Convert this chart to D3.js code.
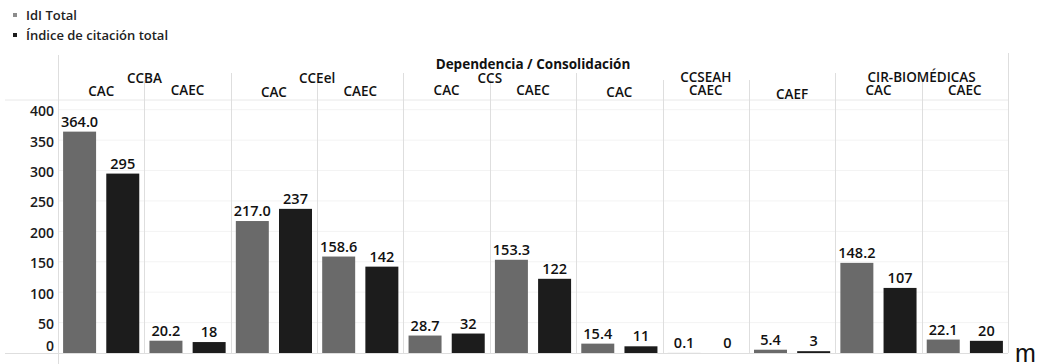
<!DOCTYPE html>
<html>
<head>
<meta charset="utf-8">
<script src="https://cdn.jsdelivr.net/npm/d3@7"></script>
<style>
  html, body { margin: 0; padding: 0; background: #fff; }
  svg { display: block; font-family: "Open Sans", sans-serif; }
</style>
</head>
<body>
<svg id="chart" width="1040" height="364"></svg>
<script>
// Dependencia / Consolidación headers
const groups = ["CCBA", "CCBA", "CCEel", "CCEel", "CCS", "CCS", "CCSEAH", "CCSEAH", "CCSEAH", "CIR-BIOMÉDICAS", "CIR-BIOMÉDICAS"];
const subgroups = ["CAC", "CAEC", "CAC", "CAEC", "CAC", "CAEC", "CAC", "CAEC", "CAEF", "CAC", "CAEC"];
// Series
const idlTotal = [364.0, 20.2, 217.0, 158.6, 28.7, 153.3, 15.4, 0.1, 5.4, 148.2, 22.1];
const indiceCitacion = [295, 18, 237, 142, 32, 122, 11, 0, 3, 107, 20];
const seriesNames = ["IdI Total", "Índice de citación total"];
const yTicks = [0, 50, 100, 150, 200, 250, 300, 350, 400];

const svg = d3.select("#chart");
const colors = { bar: ["#6a6a6a", "#1c1c1c"], legend: ["#8c8c8c", "#1c1c1c"] };
const lineCol = "#dedede";

const paneLeft = 58, paneRight = 1008, paneTop = 100, paneBottom = 353;

const x = d3.scaleBand().domain(d3.range(idlTotal.length)).range([paneLeft, paneRight]);
const xInner = d3.scaleBand().domain([0, 1]).range([0, x.bandwidth()])
  .paddingInner(0.236).paddingOuter(0.118);
const y = d3.scaleLinear().domain([0, 416]).range([paneBottom, paneTop]);

// Legend
const legend = svg.append("g");
seriesNames.forEach((name, i) => {
  legend.append("rect").attr("x", 13).attr("y", 13 + i * 20).attr("width", 4).attr("height", 4)
    .attr("fill", colors.legend[i]);
  legend.append("text").attr("x", 26).attr("y", 20 + i * 20)
    .attr("font-size", 13).attr("font-weight", 600).attr("fill", "#222").text(name);
});

// Horizontal gridlines
svg.append("g").selectAll("line").data(yTicks.filter(t => t > 0)).join("line")
  .attr("x1", paneLeft).attr("x2", paneRight)
  .attr("y1", d => y(d)).attr("y2", d => y(d))
  .attr("stroke", "#f3f3f3").attr("stroke-width", 1);

// Header bottom line and baseline
svg.append("line").attr("x1", 5).attr("x2", paneRight).attr("y1", paneTop).attr("y2", paneTop)
  .attr("stroke", "#e8e8e8");
svg.append("line").attr("x1", 5).attr("x2", paneRight).attr("y1", paneBottom + 0.5).attr("y2", paneBottom + 0.5)
  .attr("stroke", lineCol);

// Vertical panel separators
const boundaries = d3.range(idlTotal.length + 1).map(i => i < idlTotal.length ? x(i) : paneRight);
const groupStarts = new Set([0]);
groups.forEach((g, i) => { if (i > 0 && groups[i - 1] !== g) groupStarts.add(i); });
svg.append("g").selectAll("line").data(boundaries).join("line")
  .attr("x1", d => Math.round(d) + 0.5).attr("x2", d => Math.round(d) + 0.5)
  .attr("y1", (d, i) => (i === 0 ? 55 : i === idlTotal.length ? 53 : groupStarts.has(i) ? 73 : 80))
  .attr("y2", (d, i) => (i === 0 ? 364 : paneBottom))
  .attr("stroke", lineCol);

// Y axis labels
const yAxis = svg.append("g").attr("transform", `translate(${paneLeft},0)`)
  .call(d3.axisLeft(y).tickValues(yTicks).tickSize(0).tickPadding(4));
yAxis.select(".domain").remove();
yAxis.selectAll("text")
  .attr("font-family", "'Open Sans', sans-serif").attr("font-size", 14).attr("font-weight", 600)
  .attr("fill", "#1a1a1a")
  .attr("dy", d => d === 0 ? "-0.2em" : "0.42em");

// Header titles
svg.append("text").attr("x", (paneLeft + paneRight) / 2).attr("y", 69)
  .attr("text-anchor", "middle").attr("font-size", 13.5).attr("font-weight", 700).attr("fill", "#111")
  .text("Dependencia / Consolidación");

const groupSpans = d3.rollups(d3.range(groups.length), v => [d3.min(v), d3.max(v)], i => groups[i]);
svg.append("g").selectAll("text").data(groupSpans).join("text")
  .attr("x", d => (x(d[1][0]) + x(d[1][1]) + x.bandwidth()) / 2)
  .attr("y", d => (d[1][1] - d[1][0] > 1 || d[0].length > 6 ? 82 : 83))
  .attr("text-anchor", "middle").attr("font-size", 13.5).attr("font-weight", 600).attr("fill", "#111")
  .text(d => d[0]);

// Sub-header baselines shift slightly per cell
const subBaseline = [96, 95, 97, 96, 95, 95, 97, 94.5, 99, 94.5, 94.5];
svg.append("g").selectAll("text").data(subgroups).join("text")
  .attr("x", (d, i) => x(i) + x.bandwidth() / 2)
  .attr("y", (d, i) => subBaseline[i])
  .attr("text-anchor", "middle").attr("font-size", 13.5).attr("font-weight", 600).attr("fill", "#111")
  .text(d => d);

// Bars and value labels
const rows = idlTotal.map((v, i) => [
  { i, s: 0, v, label: d3.format(".1f")(v) },
  { i, s: 1, v: indiceCitacion[i], label: d3.format("d")(indiceCitacion[i]) }
]).flat();

svg.append("g").selectAll("rect").data(rows).join("rect")
  .attr("x", d => x(d.i) + xInner(d.s))
  .attr("width", xInner.bandwidth())
  .attr("y", d => y(d.v))
  .attr("height", d => y(0) - y(d.v))
  .attr("fill", d => colors.bar[d.s]);

svg.append("g").selectAll("text").data(rows).join("text")
  .attr("x", d => x(d.i) + xInner(d.s) + xInner.bandwidth() / 2)
  .attr("y", d => Math.min(y(d.v) - 5, 349))
  .attr("text-anchor", "middle").attr("font-size", 14.5).attr("font-weight", 600).attr("fill", "#111")
  .text(d => d.label);

// Stray glyph at the lower right corner
svg.append("text").attr("x", 1015).attr("y", 362)
  .attr("font-family", "'Liberation Sans', Arial, sans-serif").attr("font-size", 25).attr("fill", "#111")
  .text("m");
</script>
</body>
</html>
